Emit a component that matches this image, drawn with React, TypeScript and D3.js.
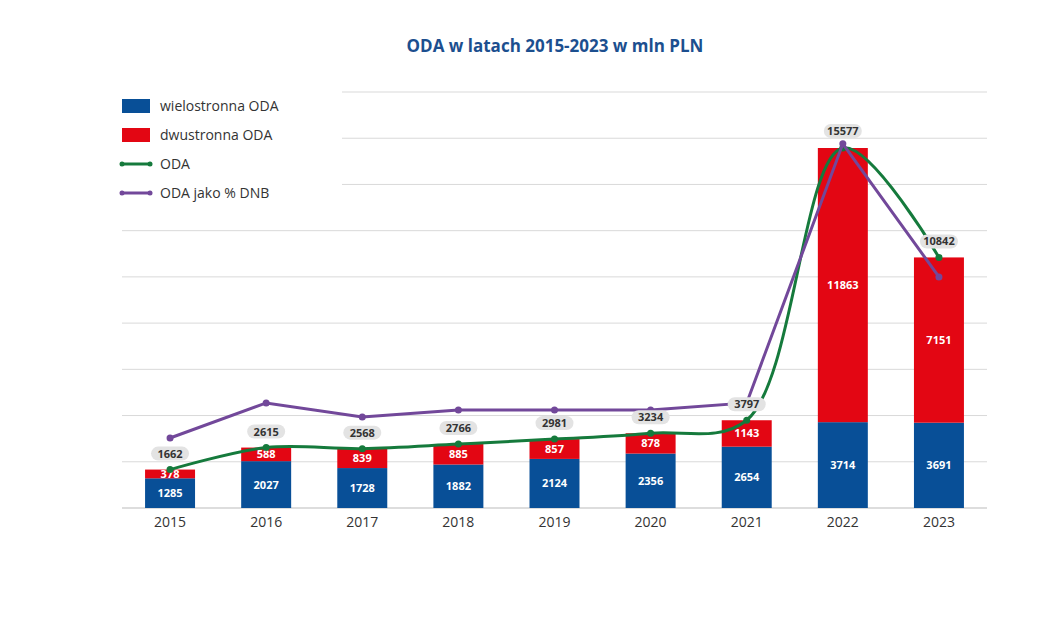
import * as d3 from "d3";

const years = ["2015", "2016", "2017", "2018", "2019", "2020", "2021", "2022", "2023"];
const multilateral = [1285, 2027, 1728, 1882, 2124, 2356, 2654, 3714, 3691];
const bilateral = [378, 588, 839, 885, 857, 878, 1143, 11863, 7151];
const odaTotal = [1662, 2615, 2568, 2766, 2981, 3234, 3797, 15577, 10842];
const odaPctGni = [0.1, 0.15, 0.13, 0.14, 0.14, 0.14, 0.15, 0.52, 0.33];
const yTicks = [0, 2000, 4000, 6000, 8000, 10000, 12000, 14000, 16000, 18000];

const BLUE = "#084f97";
const RED = "#e30613";
const GREEN = "#157a3c";
const PURPLE = "#72489a";
const FONT = "'Open Sans', 'Noto Sans', sans-serif";

export default function App() {
  const left = 122, right = 987, top = 92, bottom = 508;
  const x = d3.scaleBand().domain(years).range([left, right]).paddingInner(0.48).paddingOuter(0.24);
  const y = d3.scaleLinear().domain([0, 18000]).range([bottom, top]);
  const y2 = d3.scaleLinear().domain([0, 0.594]).range([bottom, top]);
  const cx = (i: number) => (x(years[i]) as number) + x.bandwidth() / 2;

  const odaLine = d3.line<number>().x((_, i) => cx(i)).y(d => y(d)).curve(d3.curveCatmullRom.alpha(0.5))(odaTotal) || "";
  const pctLine = d3.line<number>().x((_, i) => cx(i)).y(d => y2(d))(odaPctGni) || "";

  const legend = [
    { label: "wielostronna ODA", type: "rect", color: BLUE },
    { label: "dwustronna ODA", type: "rect", color: RED },
    { label: "ODA", type: "line", color: GREEN },
    { label: "ODA jako % DNB", type: "line", color: PURPLE },
  ];

  return (
    <svg width={1038} height={626} style={{ position: "absolute", left: 0, top: 0, fontFamily: FONT }}>
      <rect width={1038} height={626} fill="#fff" />
      <text x={555} y={52} textAnchor="middle" fontSize={17} fontWeight="bold" fill="#1c4f8f">ODA w latach 2015-2023 w mln PLN</text>
      {yTicks.map(t => (
        <line key={t} x1={t === 0 ? left : left} x2={right} y1={y(t)} y2={y(t)} stroke={t === 0 ? "#bbb" : "#d9d9d9"} strokeWidth={1} />
      ))}
      <rect x={108} y={80} width={234} height={142} fill="#fff" />
      {legend.map((l, i) => (
        <g key={l.label} transform={`translate(122,${106 + i * 29})`}>
          {l.type === "rect" ? (
            <rect x={0} y={-7} width={28} height={14} fill={l.color} />
          ) : (
            <g>
              <line x1={0} x2={28} y1={0} y2={0} stroke={l.color} strokeWidth={3} />
              <circle cx={0} cy={0} r={2.5} fill={l.color} />
              <circle cx={28} cy={0} r={2.5} fill={l.color} />
            </g>
          )}
          <text x={38} y={5} fontSize={14} fill="#333">{l.label}</text>
        </g>
      ))}
      {years.map((yr, i) => {
        const bx = x(yr) as number;
        const w = x.bandwidth();
        const yM = y(multilateral[i]);
        const yB = y(multilateral[i] + bilateral[i]);
        return (
          <g key={yr}>
            <rect x={bx} y={yM} width={w} height={bottom - yM} fill={BLUE} />
            <rect x={bx} y={yB} width={w} height={yM - yB} fill={RED} />
            <text x={cx(i)} y={(yM + bottom) / 2 + 4} textAnchor="middle" fontSize={11} fontWeight="bold" fill="#fff">{multilateral[i]}</text>
            <text x={cx(i)} y={(yB + yM) / 2 + 4} textAnchor="middle" fontSize={11} fontWeight="bold" fill="#fff">{bilateral[i]}</text>
            <text x={cx(i)} y={527} textAnchor="middle" fontSize={14} fill="#333">{yr}</text>
          </g>
        );
      })}
      <path d={odaLine} fill="none" stroke={GREEN} strokeWidth={3} />
      {odaTotal.map((v, i) => <circle key={i} cx={cx(i)} cy={y(v)} r={3.5} fill={GREEN} />)}
      <path d={pctLine} fill="none" stroke={PURPLE} strokeWidth={3} />
      {odaPctGni.map((v, i) => <circle key={i} cx={cx(i)} cy={y2(v)} r={3.5} fill={PURPLE} />)}
      {odaTotal.map((v, i) => {
        const ly = i === 7 ? 131 : y(v) - 16;
        return (
          <g key={i} transform={`translate(${cx(i)},${ly})`}>
            <rect x={-19} y={-7} width={38} height={14} rx={7} fill="#e3e3e3" />
            <text x={0} y={4} textAnchor="middle" fontSize={11} fontWeight="bold" fill="#333">{v}</text>
          </g>
        );
      })}
    </svg>
  );
}
